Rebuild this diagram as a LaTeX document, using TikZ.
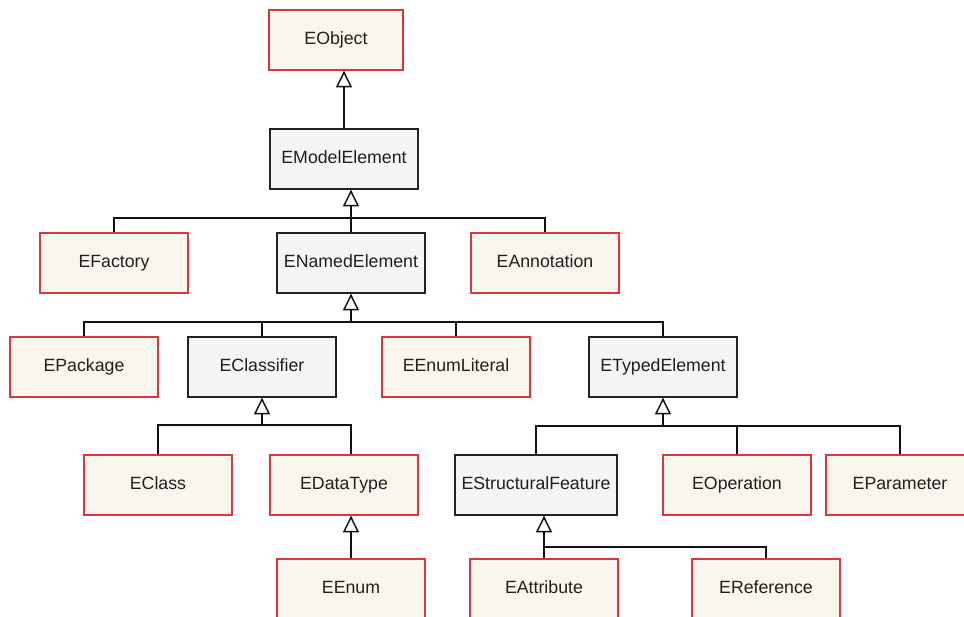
\documentclass[tikz,border=0pt]{standalone}
\usepackage{fontspec}
\setmainfont{Liberation Sans}
\usetikzlibrary{arrows.meta}

\definecolor{leafFill}{HTML}{F9F7ED}
\definecolor{leafLine}{HTML}{D9363E}
\definecolor{abstractFill}{HTML}{F5F5F5}
\definecolor{abstractLine}{HTML}{222222}
\definecolor{wire}{HTML}{111111}

\tikzset{
  classbox/.style={rectangle, inner sep=0pt, line width=1pt,
    minimum width=111pt, minimum height=45pt,
    text height=9.6pt, text depth=2.6pt,
    font=\fontsize{13.3pt}{15pt}\selectfont, text=black!88},
  leaf/.style={classbox, draw=leafLine, fill=leafFill},
  abstract/.style={classbox, draw=abstractLine, fill=abstractFill},
  wireline/.style={draw=wire, line width=1.1pt},
  gen/.style={wireline,
    -{Triangle[open, fill=white, length=12.5pt, width=12pt, line width=1.1pt]}},
}

\begin{document}
\begin{tikzpicture}[x=0.75pt, y=-0.75pt]
  \useasboundingbox (0,0) rectangle (964,617);
  \clip (0,0) rectangle (964,617);

  % class boxes
  \node[leaf, minimum width=100.5pt] (EObject) at (336,40) {EObject};
  \node[abstract] (EModelElement) at (344,159) {EModelElement};

  \node[leaf]     (EFactory)      at (114,263) {EFactory};
  \node[abstract] (ENamedElement) at (351,263) {ENamedElement};
  \node[leaf]     (EAnnotation)   at (545,263) {EAnnotation};

  \node[leaf]     (EPackage)      at (84,367)  {EPackage};
  \node[abstract] (EClassifier)   at (262,367) {EClassifier};
  \node[leaf]     (EEnumLiteral)  at (456,367) {EEnumLiteral};
  \node[abstract] (ETypedElement) at (663,367) {ETypedElement};

  \node[leaf]     (EClass)        at (158,485) {EClass};
  \node[leaf]     (EDataType)     at (344,485) {EDataType};
  \node[abstract, minimum width=121.5pt] (EStructuralFeature) at (536,485) {EStructuralFeature};
  \node[leaf]     (EOperation)    at (737,485) {EOperation};
  \node[leaf]     (EParameter)    at (900,485) {EParameter};

  \node[leaf]     (EEnum)         at (351,589) {EEnum};
  \node[leaf]     (EAttribute)    at (544,589) {EAttribute};
  \node[leaf]     (EReference)    at (766,589) {EReference};

  % junction points of the shared generalization lines
  \coordinate (hubModel)      at (351,218);
  \coordinate (hubNamed)      at (351,322);
  \coordinate (hubClassifier) at (262,425);
  \coordinate (hubTyped)      at (663,426);
  \coordinate (hubFeature)    at (544,547);

  % EModelElement -> EObject
  \draw[gen] (EModelElement.north) -- (EModelElement.north |- EObject.south);

  % children of EModelElement
  \draw[gen] (hubModel) -- (hubModel |- EModelElement.south);
  \draw[wireline] (EFactory.north) |- (EAnnotation.north |- hubModel) -- (EAnnotation.north);
  \draw[wireline] (ENamedElement.north) -- (hubModel);

  % children of ENamedElement
  \draw[gen] (hubNamed) -- (hubNamed |- ENamedElement.south);
  \draw[wireline] (EPackage.north) |- (ETypedElement.north |- hubNamed) -- (ETypedElement.north);
  \draw[wireline] (EClassifier.north) -- (EClassifier.north |- hubNamed);
  \draw[wireline] (EEnumLiteral.north) -- (EEnumLiteral.north |- hubNamed);

  % children of EClassifier
  \draw[gen] (hubClassifier) -- (hubClassifier |- EClassifier.south);
  \draw[wireline] (EClass.north) |- (EEnum.north |- hubClassifier) -- (EEnum.north |- EDataType.north);

  % children of ETypedElement
  \draw[gen] (hubTyped) -- (hubTyped |- ETypedElement.south);
  \draw[wireline] (EStructuralFeature.north) |- (EParameter.north |- hubTyped) -- (EParameter.north);
  \draw[wireline] (EOperation.north) -- (EOperation.north |- hubTyped);

  % EEnum -> EDataType
  \draw[gen] (EEnum.north) -- (EEnum.north |- EDataType.south);

  % children of EStructuralFeature
  \draw[gen] (EAttribute.north) -- (EAttribute.north |- EStructuralFeature.south);
  \draw[wireline] (hubFeature) -| (EReference.north);
\end{tikzpicture}
\end{document}
